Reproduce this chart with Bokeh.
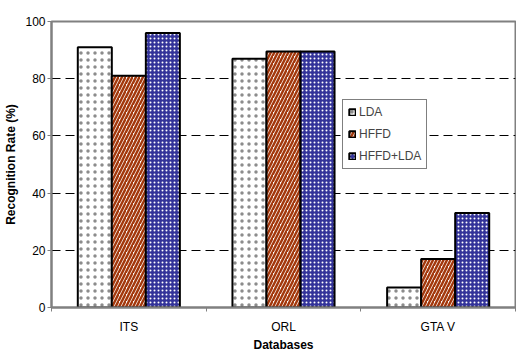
from bokeh.plotting import figure
from bokeh.models import FixedTicker, Legend, LegendItem, Range1d
from bokeh.embed import file_html
from bokeh.resources import INLINE
import numpy as np

databases = ["ITS", "ORL", "GTA V"]
series_names = ["LDA", "HFFD", "HFFD+LDA"]
lda = [91, 87, 7]
hffd = [81, 89.5, 17]
hffd_lda = [96, 89.5, 33]
y_ticks = [0, 20, 40, 60, 80, 100]
grid_ticks = [20, 40, 60, 80]

FONT = "Liberation Sans"

p = figure(width=516, height=354, output_backend="svg", toolbar_location=None,
           x_range=Range1d(0, len(databases)), y_range=Range1d(0, 100),
           min_border_left=51, min_border_top=21, min_border_right=1, min_border_bottom=47)
p.background_fill_color = "white"
p.border_fill_color = "white"
p.outline_line_color = "#808080"
p.outline_line_width = 2

centers = np.arange(len(databases)) + 0.5
bw = 0.22
styles = [
    dict(fill_color="white", hatch_pattern="dot", hatch_color="#8c8c8c", hatch_scale=7, hatch_weight=1),
    dict(fill_color="white", hatch_pattern="/", hatch_color="#a3380c", hatch_scale=7, hatch_weight=2.5),
    dict(fill_color="#333399", hatch_pattern="dot", hatch_color="white", hatch_scale=4, hatch_weight=2),
]
renderers = []
for j, vals in enumerate([lda, hffd, hffd_lda]):
    r = p.vbar(x=centers + (j - 1) * bw, top=vals, bottom=0, width=bw,
               line_color="black", line_width=2, **styles[j])
    renderers.append(r)

# grid
p.xgrid.visible = False
p.ygrid.ticker = FixedTicker(ticks=grid_ticks)
p.ygrid.grid_line_color = "black"
p.ygrid.grid_line_dash = "9 5"
p.ygrid.grid_line_width = 1

# y axis
ya = p.yaxis[0]
ya.ticker = FixedTicker(ticks=y_ticks)
ya.axis_line_color = "#808080"
ya.axis_line_width = 2
ya.major_tick_line_color = "#808080"
ya.major_tick_out = 4
ya.major_tick_in = 0
ya.minor_tick_line_color = None
ya.major_label_text_font = FONT
ya.major_label_text_font_size = "12px"
ya.major_label_text_color = "black"
ya.major_label_standoff = 2
ya.axis_label = "Recognition Rate (%)"
ya.axis_label_text_font = FONT
ya.axis_label_text_font_size = "12px"
ya.axis_label_text_font_style = "bold"
ya.axis_label_text_color = "black"
ya.axis_label_standoff = 4

# x axis
xa = p.xaxis[0]
xa.ticker = FixedTicker(ticks=list(centers), minor_ticks=list(range(len(databases) + 1)))
xa.major_label_overrides = {float(c): name for c, name in zip(centers, databases)}
xa.axis_line_color = "#808080"
xa.axis_line_width = 2
xa.major_tick_out = 0
xa.major_tick_in = 0
xa.minor_tick_line_color = "#808080"
xa.minor_tick_out = 4
xa.minor_tick_in = 0
xa.major_label_text_font = FONT
xa.major_label_text_font_size = "12px"
xa.major_label_text_color = "black"
xa.major_label_standoff = 8
xa.axis_label = "Databases"
xa.axis_label_text_font = FONT
xa.axis_label_text_font_size = "12px"
xa.axis_label_text_font_style = "bold"
xa.axis_label_text_color = "black"
xa.axis_label_standoff = 1

legend = Legend(items=[LegendItem(label=n, renderers=[r]) for n, r in zip(series_names, renderers)],
                location=(291, 138))
legend.border_line_color = "black"
legend.border_line_width = 1
legend.background_fill_color = "white"
legend.background_fill_alpha = 1
legend.label_text_font = FONT
legend.label_text_font_size = "12px"
legend.glyph_width = 8
legend.glyph_height = 8
legend.label_height = 14
legend.spacing = 8
legend.padding = 5
legend.margin = 0
legend.label_standoff = 3
p.add_layout(legend)

open("out.html", "w").write(file_html(p, INLINE))
